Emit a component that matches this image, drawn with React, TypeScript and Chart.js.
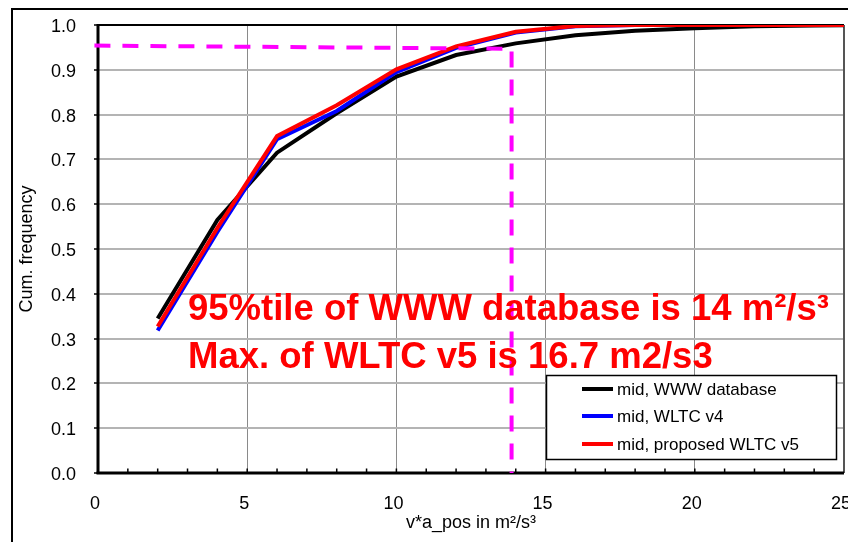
import React, { useEffect, useRef } from 'react';
import { Chart, registerables } from 'chart.js';

Chart.register(...registerables);

// ---- data ----
const binMids = [2, 4, 6, 8, 10, 12, 14, 16, 18, 20, 22, 24, 26];
const wwwDatabase = [0.345, 0.565, 0.715, 0.803, 0.885, 0.933, 0.959, 0.977, 0.987, 0.993, 0.997, 0.999, 1.0];
const wltcV4 = [0.318, 0.538, 0.745, 0.808, 0.895, 0.949, 0.983, 0.997, 1.0, 1.0, 1.0, 1.0, 1.0];
const wltcV5 = [0.327, 0.547, 0.752, 0.821, 0.901, 0.952, 0.985, 0.998, 1.0, 1.0, 1.0, 1.0, 1.0];
const refLineX = [-0.12, 13.86, 13.86];
const refLineY = [0.954, 0.947, 0];
const seriesLabels = ['mid, WWW database', 'mid, WLTC v4', 'mid, proposed WLTC v5'];
const seriesColors = ['#000000', '#0000ff', '#ff0000'];
const annotationLines = ['95%tile of WWW database is 14 m\u00b2/s\u00b3', 'Max. of WLTC v5 is 16.7 m2/s3'];
const xTitle = 'v*a_pos in m\u00b2/s\u00b3';
const yTitle = 'Cum. frequency';
const xMin = 0;
const xMax = 25;
const yMin = 0;
const yMax = 1;

const FONT = '"Liberation Sans", Arial, Helvetica, sans-serif';

const toPoints = (xs: number[], ys: number[]) => xs.map((x, i) => ({ x, y: ys[i] }));

const decorPlugin = {
  id: 'decor',
  beforeDraw(chart: any) {
    const ctx = chart.ctx;
    ctx.save();
    ctx.fillStyle = '#ffffff';
    ctx.fillRect(0, 0, chart.width, chart.height);
    ctx.fillStyle = '#000000';
    ctx.fillRect(11, 8, 2, chart.height);
    ctx.fillRect(11, 8, chart.width, 2);
    ctx.restore();
  },
  beforeDatasetsDraw(chart: any) {
    const ctx = chart.ctx;
    const { left, right, top, bottom } = chart.chartArea;
    const xs = chart.scales.x;
    ctx.save();
    // right border
    ctx.fillStyle = '#555555';
    ctx.fillRect(right - 1, top, 2, bottom - top);
    // top border
    ctx.fillStyle = '#000000';
    ctx.fillRect(left, top - 1, right - left, 2);
    // left axis
    ctx.fillRect(left - 1.5, top - 1, 3, bottom - top + 2);
    // bottom axis
    ctx.fillRect(left - 1.5, bottom - 1.5, right - left + 1.5, 3);
    // minor ticks (inward)
    for (let v = xMin + 1; v < xMax; v++) {
      const px = xs.getPixelForValue(v);
      ctx.fillRect(px - 0.75, bottom - 4.5, 1.5, 4);
    }
    ctx.restore();
  },
  afterDatasetsDraw(chart: any) {
    const ctx = chart.ctx;
    ctx.save();
    // annotation text
    ctx.fillStyle = '#ff0000';
    ctx.font = `bold 36.5px ${FONT}`;
    ctx.textBaseline = 'alphabetic';
    ctx.textAlign = 'left';
    ctx.fillText(annotationLines[0], 188, 320);
    ctx.fillText(annotationLines[1], 188, 368);

    // legend
    const bx = 546.5, by = 375.5, bw = 290, bh = 84;
    ctx.fillStyle = '#ffffff';
    ctx.fillRect(bx, by, bw, bh);
    ctx.strokeStyle = '#000000';
    ctx.lineWidth = 1.5;
    ctx.strokeRect(bx, by, bw, bh);
    const rows = [389, 416, 444];
    const legendSets = chart.data.datasets.filter((d: any) => d.inLegend);
    ctx.font = `17px ${FONT}`;
    ctx.textBaseline = 'middle';
    legendSets.forEach((d: any, i: number) => {
      const y = rows[i];
      ctx.fillStyle = d.borderColor;
      ctx.fillRect(582, y - 2, 31, 4);
      ctx.fillStyle = '#000000';
      ctx.fillText(d.label, 617, y + 1);
    });
    ctx.restore();
  },
};

export default function App() {
  const canvasRef = useRef<HTMLCanvasElement | null>(null);

  useEffect(() => {
    document.body.style.margin = '0';
    const canvas = canvasRef.current;
    if (!canvas) return;
    Chart.defaults.font.family = FONT;
    const chart = new Chart(canvas, {
      type: 'line',
      data: {
        datasets: [
          {
            label: 'ref',
            data: toPoints(refLineX, refLineY),
            borderColor: '#ff00ff',
            borderWidth: 4,
            borderDash: [16, 12],
            borderCapStyle: 'butt',
            pointRadius: 0,
            fill: false,
            tension: 0,
            clip: false,
            order: 0,
            inLegend: false,
          } as any,
          {
            label: seriesLabels[0],
            data: toPoints(binMids, wwwDatabase),
            borderColor: seriesColors[0],
            borderWidth: 4,
            pointRadius: 0,
            fill: false,
            tension: 0,
            order: 3,
            inLegend: true,
          } as any,
          {
            label: seriesLabels[1],
            data: toPoints(binMids, wltcV4),
            borderColor: seriesColors[1],
            borderWidth: 4,
            pointRadius: 0,
            fill: false,
            tension: 0,
            order: 2,
            inLegend: true,
          } as any,
          {
            label: seriesLabels[2],
            data: toPoints(binMids, wltcV5),
            borderColor: seriesColors[2],
            borderWidth: 4,
            pointRadius: 0,
            fill: false,
            tension: 0,
            order: 1,
            inLegend: true,
          } as any,
        ],
      },
      options: {
        animation: false,
        responsive: false,
        devicePixelRatio: 1,
        events: [],
        layout: { padding: { top: 25, right: 4, left: 0, bottom: 0 } },
        plugins: {
          legend: { display: false },
          tooltip: { enabled: false },
          title: { display: false },
        },
        scales: {
          x: {
            type: 'linear',
            min: xMin,
            max: xMax,
            border: { display: false },
            grid: {
              drawTicks: false,
              lineWidth: 1,
              color: (c: any) => (c.tick && Math.round(c.tick.value) % 5 === 0 ? '#8a8a8a' : 'rgba(0,0,0,0)'),
            },
            ticks: {
              stepSize: 1,
              autoSkip: false,
              maxRotation: 0,
              padding: 20,
              labelOffset: -3,
              color: '#000000',
              font: { size: 18 },
              callback: (v: any) => (Math.round(v) % 5 === 0 ? String(Math.round(v)) : ''),
            },
            title: {
              display: true,
              text: xTitle,
              color: '#000000',
              font: { size: 18 },
              padding: { top: 0, bottom: 8 },
            },
            afterFit: (s: any) => {
              s.height = 69;
              s.paddingLeft = 0;
              s.paddingRight = 0;
            },
          },
          y: {
            type: 'linear',
            min: yMin,
            max: yMax,
            border: { display: false },
            grid: {
              drawTicks: true,
              tickLength: 4,
              tickColor: '#000000',
              tickWidth: 1.5,
              lineWidth: 2,
              color: '#b4b4b4',
            },
            ticks: {
              stepSize: 0.1,
              padding: 18,
              labelOffset: 2,
              color: '#000000',
              font: { size: 18 },
              callback: (v: any) => Number(v).toFixed(1),
            },
            title: {
              display: true,
              text: yTitle,
              color: '#000000',
              font: { size: 18 },
              padding: { top: 16, bottom: 0 },
            },
            afterFit: (s: any) => {
              s.width = 98;
              s.paddingTop = 0;
              s.paddingBottom = 0;
            },
          },
        },
      } as any,
      plugins: [decorPlugin],
    });
    return () => chart.destroy();
  }, []);

  return (
    <div style={{ position: 'fixed', left: 0, top: 0, width: 848, height: 542 }}>
      <canvas ref={canvasRef} width={848} height={542} style={{ display: 'block', width: 848, height: 542 }} />
    </div>
  );
}
